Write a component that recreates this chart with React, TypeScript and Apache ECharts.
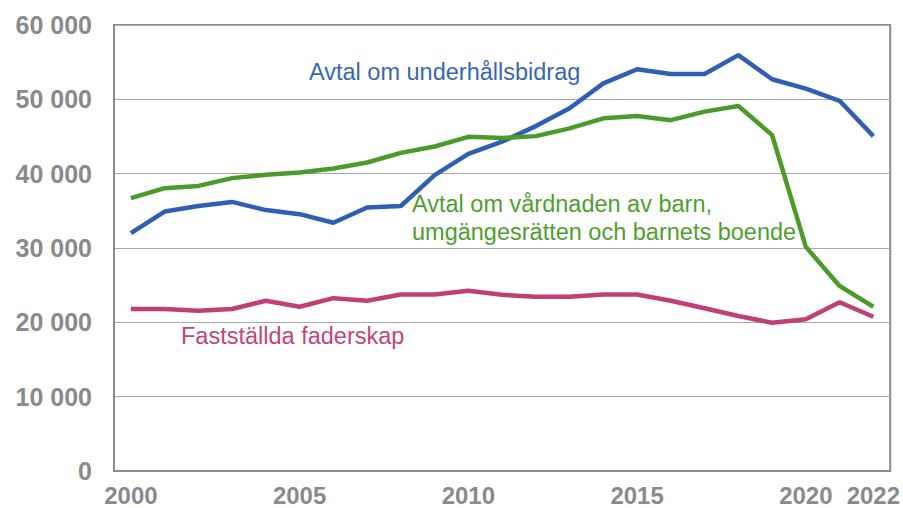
import React, { useEffect, useRef } from "react";
import * as echarts from "echarts";

const years = [
  "2000", "2001", "2002", "2003", "2004", "2005", "2006", "2007", "2008", "2009", "2010",
  "2011", "2012", "2013", "2014", "2015", "2016", "2017", "2018", "2019", "2020", "2021", "2022",
];

const underhallsbidrag = [
  32000, 34900, 35650, 36200, 35100, 34550, 33400, 35450, 35650, 39800, 42650,
  44300, 46400, 48800, 52150, 54050, 53400, 53400, 55950, 52700, 51450, 49800, 45050,
];

const vardnaden = [
  36700, 38050, 38350, 39400, 39850, 40150, 40700, 41500, 42800, 43650, 44950,
  44800, 45050, 46100, 47450, 47750, 47200, 48350, 49100, 45200, 30150, 24900, 22100,
];

const faderskap = [
  21800, 21800, 21550, 21800, 22900, 22100, 23250, 22900, 23750, 23750, 24250,
  23700, 23450, 23450, 23750, 23750, 22900, 21900, 20850, 19950, 20400, 22700, 20750,
];

const shownYearLabels = ["2000", "2005", "2010", "2015", "2020", "2022"];

const seriesNames = [
  "Avtal om underhållsbidrag",
  "Avtal om vårdnaden av barn, umgängesrätten och barnets boende",
  "Fastställda faderskap",
];

const FONT = "'Liberation Sans', Arial, Helvetica, sans-serif";

export default function App() {
  const ref = useRef<HTMLDivElement>(null);

  useEffect(() => {
    document.body.style.margin = "0";
    if (!ref.current) return;
    const chart = echarts.init(ref.current, undefined, { renderer: "svg" });
    chart.setOption({
      animation: false,
      backgroundColor: "#ffffff",
      grid: {
        left: 114,
        top: 25,
        right: 12,
        bottom: 37,
        show: true,
        borderColor: "#8c8c8c",
        borderWidth: 2,
        backgroundColor: "transparent",
      },
      xAxis: {
        type: "category",
        data: years,
        boundaryGap: true,
        axisLine: { show: true, lineStyle: { color: "#8c8c8c", width: 2 } },
        axisTick: { show: false },
        axisLabel: {
          interval: 0,
          margin: 12,
          color: "#8a8a8a",
          fontFamily: FONT,
          fontWeight: "bold",
          fontSize: 24,
          formatter: (v: string) => (shownYearLabels.includes(v) ? v : ""),
        },
        splitLine: { show: false },
      },
      yAxis: {
        type: "value",
        min: 0,
        max: 60000,
        interval: 10000,
        axisLine: { show: true, lineStyle: { color: "#8c8c8c", width: 2 } },
        axisTick: { show: false },
        axisLabel: {
          margin: 22,
          color: "#8a8a8a",
          fontFamily: FONT,
          fontWeight: "bold",
          fontSize: 25,
          formatter: (v: number) =>
            v === 0 ? "0" : String(v).replace(/\B(?=(\d{3})+(?!\d))/g, " "),
        },
        splitLine: { show: true, lineStyle: { color: "#a8a8a8", width: 1 } },
      },
      series: [
        {
          name: seriesNames[0],
          type: "line",
          data: underhallsbidrag,
          showSymbol: false,
          lineStyle: { color: "#2f5fb3", width: 4.5 },
          itemStyle: { color: "#2f5fb3" },
        },
        {
          name: seriesNames[1],
          type: "line",
          data: vardnaden,
          showSymbol: false,
          lineStyle: { color: "#4a9b2a", width: 4.5 },
          itemStyle: { color: "#4a9b2a" },
        },
        {
          name: seriesNames[2],
          type: "line",
          data: faderskap,
          showSymbol: false,
          lineStyle: { color: "#c03f74", width: 4.5 },
          itemStyle: { color: "#c03f74" },
        },
      ],
      graphic: [
        {
          type: "text",
          left: 309,
          top: 60,
          style: {
            text: "Avtal om underhållsbidrag",
            fill: "#3a66b8",
            font: `23.5px ${FONT}`,
          },
        },
        {
          type: "text",
          left: 412,
          top: 190,
          style: {
            text: "Avtal om vårdnaden av barn,\numgängesrätten och barnets boende",
            fill: "#4ea02e",
            font: `23.5px ${FONT}`,
            lineHeight: 28,
          },
        },
        {
          type: "text",
          left: 181,
          top: 324,
          style: {
            text: "Fastställda faderskap",
            fill: "#c2457a",
            font: `23.5px ${FONT}`,
          },
        },
      ],
    });
    return () => chart.dispose();
  }, []);

  return <div ref={ref} style={{ width: 903, height: 508 }} />;
}
